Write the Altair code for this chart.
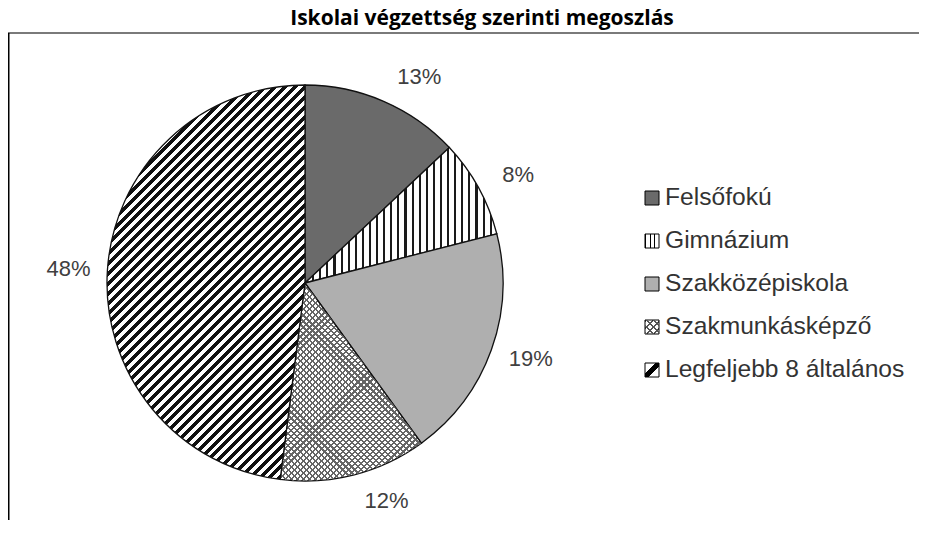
import math
import altair as alt
import pandas as pd

# ---------------- data ----------------
categories = ["Felsőfokú", "Gimnázium", "Szakközépiskola", "Szakmunkásképző", "Legfeljebb 8 általános"]
shares = [13, 8, 19, 12, 48]
labels = ["13%", "8%", "19%", "12%", "48%"]
title_text = "Iskolai végzettség szerinti megoszlás"

df = pd.DataFrame({"cat": categories, "value": shares, "label": labels, "order": list(range(len(categories)))})
title_df = pd.DataFrame({"t": [title_text]})

# ---------------- layout / style ----------------
W, H = 911, 512
CX, CY, R = 297, 275, 198
TWO_PI = 2 * math.pi
FONT = "Liberation Sans"


def stripes(x1, y1, x2, y2, n, frac, line, bg):
    stops = []
    for i in range(n):
        a, b, c = i / n, (i + frac) / n, (i + 1) / n
        stops += [
            {"offset": round(a, 5), "color": line},
            {"offset": round(b, 5), "color": line},
            {"offset": round(b, 5), "color": bg},
            {"offset": round(c, 5), "color": bg},
        ]
    return {"gradient": "linear", "x1": x1, "y1": y1, "x2": x2, "y2": y2, "stops": stops}


def arc_bbox(p0, p1, r):
    a0, a1 = p0 / 100 * TWO_PI, p1 / 100 * TWO_PI
    angs = [a0, a1] + [k * math.pi / 2 for k in range(5) if a0 < k * math.pi / 2 < a1]
    xs = [0.0] + [r * math.sin(a) for a in angs]
    ys = [0.0] + [-r * math.cos(a) for a in angs]
    return max(xs) - min(xs), max(ys) - min(ys)


def diag(w, h, period, frac, line, bg, direction="/"):
    lam = (w + h) / (w * w + h * h)
    n = max(1, round((w + h) / math.sqrt(2) / period))
    if direction == "/":
        return stripes(0, 0, lam * w, lam * h, n, frac, line, bg)
    return stripes(0, 1, lam * w, 1 - lam * h, n, frac, line, bg)


cum = [sum(shares[:i]) for i in range(len(shares) + 1)]
bb = [arc_bbox(cum[i], cum[i + 1], R) for i in range(len(shares))]

slice_fills = {
    categories[0]: ["#6a6a6a"],
    categories[1]: [stripes(0, 0, 1, 0, round(bb[1][0] / 7.0), 0.3, "#1a1a1a", "#ffffff")],
    categories[2]: ["#afafaf"],
    categories[3]: [diag(bb[3][0], bb[3][1], 4.3, 0.36, "#666666", "#ffffff", "/"),
                    diag(bb[3][0], bb[3][1], 4.3, 0.36, "#666666", "transparent", "\\")],
    categories[4]: [diag(bb[4][0], bb[4][1], 7.0, 0.5, "#111111", "#ffffff", "/")],
}

legend_fills = {
    categories[0]: ["#6a6a6a"],
    categories[1]: [stripes(0, 0, 1, 0, 3, 0.2, "#000000", "#ffffff")],
    categories[2]: ["#afafaf"],
    categories[3]: [diag(14, 14, 4.7, 0.3, "#555555", "#ffffff", "/"),
                    diag(14, 14, 4.7, 0.3, "#555555", "transparent", "\\")],
    categories[4]: [{"gradient": "linear", "x1": 0, "y1": 0, "x2": 1, "y2": 1,
                     "stops": [{"offset": 0, "color": "#ffffff"}, {"offset": 0.36, "color": "#ffffff"},
                               {"offset": 0.36, "color": "#000000"}, {"offset": 0.64, "color": "#000000"},
                               {"offset": 0.64, "color": "#ffffff"}, {"offset": 1, "color": "#ffffff"}]}],
}

base = alt.Chart(df).transform_window(
    cum="sum(value)", sort=[alt.SortField("order")]
).transform_calculate(
    start="datum.cum - datum.value", end="datum.cum"
)

theta_scale = alt.Scale(domain=[0, 100], range=[0, TWO_PI])

layers = []
for cat in categories:
    for k, f in enumerate(slice_fills[cat]):
        layers.append(
            base.transform_filter(alt.datum.cat == cat)
            .mark_arc(radius=R, fill=f, stroke="#111111", strokeWidth=1.3 if k == 0 else 0)
            .encode(
                theta=alt.Theta("start:Q", scale=theta_scale),
                theta2=alt.Theta2("end:Q"),
                x=alt.value(CX),
                y=alt.value(CY),
            )
        )

# percentage labels (placed outside, Excel-like)
label_layer = base.transform_calculate(
    mid=f"(datum.start + datum.value / 2) / 100 * {TWO_PI}"
).transform_calculate(
    lx="237 * sin(datum.mid) + 24 * cos(datum.mid) * cos(datum.mid)",
    ly="-225 * cos(datum.mid)",
).transform_calculate(
    lt="atan2(datum.lx, -datum.ly)",
    lr="sqrt(datum.lx * datum.lx + datum.ly * datum.ly)",
).mark_text(font=FONT, fontSize=22, color="#404040", align="center", baseline="middle").encode(
    theta=alt.Theta("lt:Q", scale=None, stack=False),
    radius=alt.Radius("lr:Q", scale=None),
    x=alt.value(CX),
    y=alt.value(CY),
    text="label:N",
)
layers.append(label_layer)

# legend
leg_y = alt.Y("cat:N", scale=alt.Scale(type="point", domain=categories, range=[190, 362], padding=0), axis=None)
for cat in categories:
    for k, f in enumerate(legend_fills[cat]):
        layers.append(
            alt.Chart(df).transform_filter(alt.datum.cat == cat)
            .mark_square(size=196, fill=f, opacity=1, filled=True,
                         stroke="#000000", strokeWidth=1 if k == 0 else 0)
            .encode(x=alt.value(644), y=leg_y)
        )
layers.append(
    alt.Chart(df).mark_text(font=FONT, fontSize=24.6, color="#333333", align="left", baseline="middle")
    .encode(x=alt.value(657), y=leg_y, text="cat:N")
)

# title
layers.append(
    alt.Chart(title_df).mark_text(font="Open Sans", fontSize=21, fontWeight="bold", color="#000000",
                                  align="center", baseline="alphabetic")
    .encode(x=alt.value(474), y=alt.value(17), text="t:N")
)

# frame lines
layers.append(
    alt.Chart(title_df).mark_rule(color="#7a7a7a", strokeWidth=2)
    .encode(x=alt.value(0), x2=alt.value(W), y=alt.value(25))
)
layers.append(
    alt.Chart(title_df).mark_rule(color="#000000", strokeWidth=1.5)
    .encode(x=alt.value(0.75), y=alt.value(25), y2=alt.value(H))
)

chart = alt.layer(*layers).properties(
    width=W, height=H, padding=0, autosize=alt.AutoSizeParams(type="none"), background="#ffffff"
).configure_view(stroke=None)

chart.save("out.html", embed_options={"renderer": "svg", "actions": False})
